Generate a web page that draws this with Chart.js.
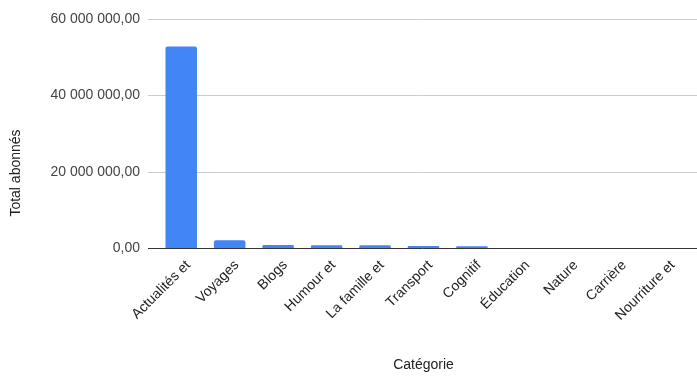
<!DOCTYPE html>
<html><head><meta charset="utf-8">
<script src="https://cdn.jsdelivr.net/npm/chart.js@4"></script>
<style>html,body{margin:0;padding:0;background:#fff}#wrap{width:697px;height:376px}</style>
</head><body><div id="wrap"><canvas id="c" width="697" height="376"></canvas></div>
<script>
const categories = ['Actualités et', 'Voyages', 'Blogs', 'Humour et', 'La famille et', 'Transport', 'Cognitif', 'Éducation', 'Nature', 'Carrière', 'Nourriture et'];
const totalAbonnes = [52800000, 2000000, 780000, 750000, 720000, 500000, 480000, 15000, 10000, 6000, 4000];
const yTickValues = [0, 20000000, 40000000, 60000000];
const yTickLabels = ['0,00', '20 000 000,00', '40 000 000,00', '60 000 000,00'];
const xTitle = 'Catégorie';
const yTitle = 'Total abonnés';

const FONT = '"Liberation Sans", Arial, sans-serif';
const overlay = {
  id: 'overlay',
  beforeDatasetsDraw(chart) {
    const ctx = chart.ctx, y = chart.scales.y;
    ctx.save();
    ctx.strokeStyle = '#cccccc'; ctx.lineWidth = 1;
    yTickValues.forEach(v => {
      if (v === 0) return;
      const py = Math.round(y.getPixelForValue(v)) + 0.5;
      ctx.beginPath(); ctx.moveTo(148, py); ctx.lineTo(697, py); ctx.stroke();
    });
    ctx.restore();
  },
  afterDatasetsDraw(chart) {
    const ctx = chart.ctx, y = chart.scales.y;
    ctx.save();
    ctx.strokeStyle = '#333333'; ctx.lineWidth = 1;
    const py = Math.round(y.getPixelForValue(0)) + 0.5;
    ctx.beginPath(); ctx.moveTo(148, py); ctx.lineTo(697, py); ctx.stroke();
    ctx.fillStyle = '#222222';
    ctx.font = '14px ' + FONT;
    ctx.textAlign = 'center'; ctx.textBaseline = 'middle';
    ctx.translate(16, 173); ctx.rotate(-Math.PI / 2);
    ctx.fillText(yTitle, 0, 0);
    ctx.restore();
  }
};

new Chart(document.getElementById('c'), {
  type: 'bar',
  data: {
    labels: categories,
    datasets: [{
      data: totalAbonnes,
      backgroundColor: '#4285F4',
      borderRadius: { topLeft: 2, topRight: 2, bottomLeft: 0, bottomRight: 0 },
      borderSkipped: 'bottom',
      categoryPercentage: 1,
      barPercentage: 0.65
    }]
  },
  options: {
    responsive: false,
    animation: false,
    devicePixelRatio: 1,
    layout: { padding: { top: 19, right: 7, left: 0, bottom: 0 } },
    plugins: { legend: { display: false }, tooltip: { enabled: false } },
    scales: {
      x: {
        grid: { display: false, drawTicks: false },
        border: { display: false },
        ticks: {
          color: '#222222', font: { family: FONT, size: 14 },
          maxRotation: 45, minRotation: 45, padding: 9, labelOffset: 7, autoSkip: false
        },
        title: { display: true, text: xTitle, color: '#222222', font: { family: FONT, size: 14 }, padding: { top: 0, bottom: 2 } },
        afterFit(s) { s.height = 128; s.paddingLeft = 0; s.paddingRight = 0; }
      },
      y: {
        min: 0, max: 60000000,
        afterBuildTicks(s) { s.ticks = yTickValues.map(v => ({ value: v })); },
        grid: { display: false, drawTicks: false },
        border: { display: false },
        ticks: {
          color: '#444444', font: { family: FONT, size: 14 }, padding: 17,
          callback(v) { const i = yTickValues.indexOf(v); return i >= 0 ? yTickLabels[i] : ''; }
        },
        afterFit(s) { s.width = 157; s.paddingTop = 0; s.paddingBottom = 0; }
      }
    }
  },
  plugins: [overlay]
});
</script></body></html>
